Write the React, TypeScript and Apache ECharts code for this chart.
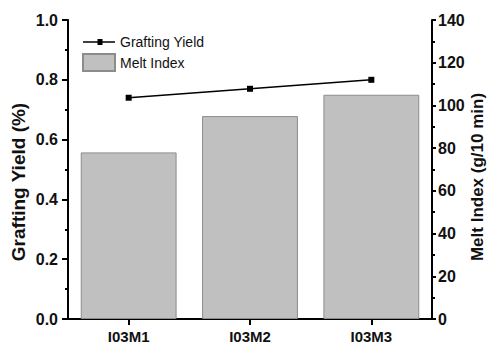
import React, { useEffect, useRef } from "react";
import * as echarts from "echarts";

const categories = ["I03M1", "I03M2", "I03M3"];
const graftingYield = [0.74, 0.77, 0.8];
const meltIndex = [78, 95, 105];
const leftTicks = { min: 0, max: 1.0, interval: 0.2 };
const rightTicks = { min: 0, max: 140, interval: 20 };

const FONT = "'Liberation Sans', Arial, Helvetica, sans-serif";

export default function App() {
  const ref = useRef<HTMLDivElement>(null);

  useEffect(() => {
    if (!ref.current) return;
    const chart = echarts.init(ref.current, undefined, { renderer: "svg" });

    const axisLine = { show: true, lineStyle: { color: "#000", width: 2 } };
    const labelStyle = { color: "#111", fontFamily: FONT, fontWeight: "bold" as const, fontSize: 16 };

    chart.setOption({
      animation: false,
      backgroundColor: "#fff",
      grid: { left: 68, right: 55, top: 20, bottom: 25, containLabel: false },
      legend: {
        orient: "vertical",
        left: 77,
        top: 30,
        itemWidth: 32,
        itemHeight: 17,
        itemGap: 4,
        symbolKeepAspect: true,
        textStyle: { fontFamily: FONT, fontSize: 14, color: "#111" },
        data: [
          {
            name: "Grafting Yield",
            icon: "path://M0,2.3L14.5,2.3L14.5,0L19.5,0L19.5,2.3L32,2.3L32,3.7L19.5,3.7L19.5,6L14.5,6L14.5,3.7L0,3.7Z",
          },
          { name: "Melt Index", icon: "rect" },
        ],
      },
      xAxis: [
        {
          type: "category",
          data: categories,
          position: "bottom",
          boundaryGap: true,
          axisLine,
          axisTick: { show: true, alignWithLabel: true, inside: false, length: 6, lineStyle: { color: "#000", width: 2 } },
          axisLabel: { ...labelStyle, fontSize: 15, margin: 10 },
          splitLine: { show: false },
        },
        {
          type: "category",
          data: categories,
          position: "top",
          boundaryGap: true,
          axisLine,
          axisTick: { show: true, alignWithLabel: true, inside: true, length: 5, lineStyle: { color: "#000", width: 2 } },
          axisLabel: { show: false },
          splitLine: { show: false },
        },
      ],
      yAxis: [
        {
          type: "value",
          position: "left",
          ...leftTicks,
          axisLine,
          axisTick: { show: true, inside: false, length: 6, lineStyle: { color: "#000", width: 2 } },
          minorTick: { show: true, splitNumber: 2, length: 3, lineStyle: { color: "#000", width: 2 } },
          axisLabel: { ...labelStyle, margin: 10, formatter: (v: number) => v.toFixed(1) },
          splitLine: { show: false },
        },
        {
          type: "value",
          position: "right",
          ...rightTicks,
          axisLine,
          axisTick: { show: true, inside: false, length: 4, lineStyle: { color: "#000", width: 2 } },
          minorTick: { show: true, splitNumber: 2, length: 3, lineStyle: { color: "#000", width: 2 } },
          axisLabel: { ...labelStyle, margin: 6 },
          splitLine: { show: false },
        },
      ],
      series: [
        {
          name: "Melt Index",
          type: "bar",
          yAxisIndex: 1,
          data: meltIndex,
          barWidth: "79%",
          itemStyle: { color: "#c0c0c0", borderColor: "#8c8c8c", borderWidth: 1 },
          z: 2,
        },
        {
          name: "Grafting Yield",
          type: "line",
          yAxisIndex: 0,
          data: graftingYield,
          symbol: "rect",
          symbolSize: 6,
          lineStyle: { color: "#000", width: 1.5 },
          itemStyle: { color: "#000" },
          z: 3,
        },
      ],
      graphic: [
        {
          type: "text",
          x: 18,
          y: 182,
          rotation: Math.PI / 2,
          style: {
            text: "Grafting Yield (%)",
            fontFamily: FONT,
            fontWeight: "bold",
            fontSize: 19,
            fill: "#111",
            align: "center",
            verticalAlign: "middle",
          },
        },
        {
          type: "text",
          x: 477,
          y: 177,
          rotation: Math.PI / 2,
          style: {
            text: "Melt Index (g/10 min)",
            fontFamily: FONT,
            fontWeight: "bold",
            fontSize: 17,
            fill: "#111",
            align: "center",
            verticalAlign: "middle",
          },
        },
      ],
    });

    return () => chart.dispose();
  }, []);

  return <div ref={ref} style={{ width: 487, height: 344, position: "absolute", left: 0, top: 0 }} />;
}
